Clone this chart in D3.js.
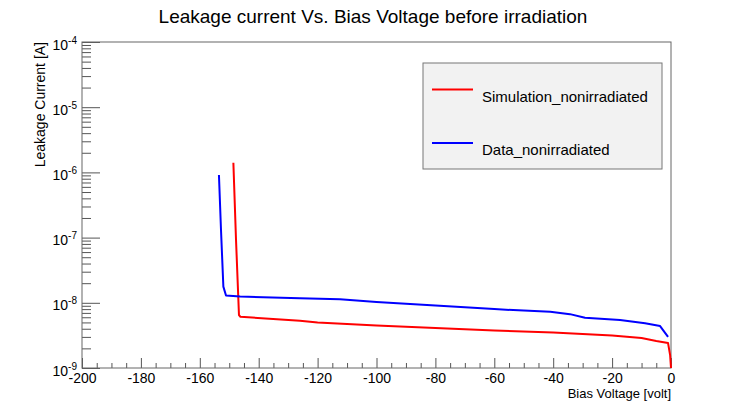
<!DOCTYPE html>
<html>
<head>
<meta charset="utf-8">
<script src="https://cdn.jsdelivr.net/npm/d3@7"></script>
<style>
  html, body { margin: 0; padding: 0; background: #fff; }
  svg { display: block; font-family: "Liberation Sans", Arial, Helvetica, sans-serif; }
</style>
</head>
<body>
<svg id="chart" width="732" height="407"></svg>
<script>
// Bias voltage [V] and leakage current [A] for the simulated curve
const simVoltage = [-148.6, -147.7, -146.7, -146.2, -126, -120, -100, -80, -60, -40, -20, -10, -5, -1, -0.3, 0];
const simCurrent = [1.41e-6, 9.2e-8, 6.5e-9, 6.1e-9, 5.3e-9, 4.99e-9, 4.49e-9, 4.1e-9, 3.76e-9, 3.5e-9, 3.15e-9, 2.88e-9, 2.59e-9, 2.41e-9, 1.58e-9, 1.0e-9];

// Bias voltage [V] and leakage current [A] for the measured curve
const dataVoltage = [-153.5, -152.8, -152.0, -151.1, -146.3, -126, -112.4, -100, -80, -60, -50, -41, -34.3, -29.2, -17.3, -8.8, -3.7, -1.0];
const dataCurrent = [9.1e-7, 1.31e-7, 1.77e-8, 1.29e-8, 1.25e-8, 1.17e-8, 1.13e-8, 1.03e-8, 9.1e-9, 8.0e-9, 7.6e-9, 7.3e-9, 6.7e-9, 5.9e-9, 5.44e-9, 4.85e-9, 4.4e-9, 3.0e-9];

// Axis ranges and ticks
const xDomain = [-200, 0];
const xMajorTicks = [-200, -180, -160, -140, -120, -100, -80, -60, -40, -20, 0];
const yDomain = [1e-9, 1e-4];
const yDecadeExponents = [-9, -8, -7, -6, -5, -4];

const seriesNames = ["Simulation_nonirradiated", "Data_nonirradiated"];
const seriesColors = ["#ff0000", "#0000ff"];

const svg = d3.select("#chart");
const frame = { left: 82, right: 671, top: 42, bottom: 368 };

const x = d3.scaleLinear().domain(xDomain).range([frame.left, frame.right]);
const y = d3.scaleLog().domain(yDomain).range([frame.bottom, frame.top]);

// Title
svg.append("text")
  .attr("x", 373).attr("y", 23)
  .attr("text-anchor", "middle")
  .attr("font-size", 19)
  .text("Leakage current Vs. Bias Voltage before irradiation");

// Minor x ticks every 5 V
const xMinor = d3.range(-200, 0.1, 5).filter(v => v % 20 !== 0);
svg.append("g")
  .attr("transform", `translate(0,${frame.bottom})`)
  .call(d3.axisBottom(x).tickValues(xMinor).tickSize(-5).tickFormat(""))
  .call(g => g.select(".domain").remove())
  .call(g => g.selectAll("line").attr("stroke", "#555"));

// Major x ticks with labels
svg.append("g")
  .attr("transform", `translate(0,${frame.bottom})`)
  .call(d3.axisBottom(x).tickValues(xMajorTicks).tickSize(-10).tickPadding(5).tickFormat(d3.format("d")))
  .call(g => g.select(".domain").remove())
  .call(g => g.selectAll("line").attr("stroke", "#555"))
  .call(g => g.selectAll("text")
    .attr("font-size", 14)
    .attr("font-family", "Liberation Sans, Arial, sans-serif")
    .attr("fill", "#000")
    .attr("y", 15)
    .attr("dy", 0)
    .text(d => String(d)));

// Minor y ticks 2..9 x 10^n
const yMinor = [];
yDecadeExponents.slice(0, -1).forEach(e => {
  for (let m = 2; m <= 9; m++) yMinor.push(m * Math.pow(10, e));
});
svg.append("g")
  .attr("transform", `translate(${frame.left},0)`)
  .call(d3.axisLeft(y).tickValues(yMinor).tickSize(-9).tickFormat(""))
  .call(g => g.select(".domain").remove())
  .call(g => g.selectAll("line").attr("stroke", "#555"));

// Decade y ticks with power-of-ten labels
const yMajor = yDecadeExponents.map(e => Math.pow(10, e));
const yAxisG = svg.append("g")
  .attr("transform", `translate(${frame.left},0)`)
  .call(d3.axisLeft(y).tickValues(yMajor).tickSize(-18).tickFormat(""))
  .call(g => g.select(".domain").remove())
  .call(g => g.selectAll("line").attr("stroke", "#555"));

yAxisG.selectAll(".tick").each(function (d) {
  const exp = Math.round(Math.log10(d));
  const t = d3.select(this).append("text")
    .attr("x", -5).attr("y", 7)
    .attr("text-anchor", "end")
    .attr("font-size", 14)
    .attr("fill", "#000");
  t.append("tspan").text("10");
  t.append("tspan").attr("dy", -6).attr("font-size", 10).text(String(exp));
});

// Frame
svg.append("rect")
  .attr("x", frame.left).attr("y", frame.top)
  .attr("width", frame.right - frame.left)
  .attr("height", frame.bottom - frame.top)
  .attr("fill", "none")
  .attr("stroke", "#666")
  .attr("stroke-width", 1);

// Axis titles
svg.append("text")
  .attr("x", frame.right).attr("y", 398)
  .attr("text-anchor", "end")
  .attr("font-size", 13)
  .text("Bias Voltage [volt]");

svg.append("text")
  .attr("transform", `translate(45,${frame.top}) rotate(-90)`)
  .attr("text-anchor", "end")
  .attr("font-size", 14)
  .text("Leakage Current [A]");

// Curves
const line = d3.line().x(d => x(d[0])).y(d => y(d[1]));
const series = [
  d3.zip(simVoltage, simCurrent),
  d3.zip(dataVoltage, dataCurrent)
];
series.forEach((pts, i) => {
  svg.append("path")
    .datum(pts)
    .attr("d", line)
    .attr("fill", "none")
    .attr("stroke", seriesColors[i])
    .attr("stroke-width", 2)
    .attr("stroke-linejoin", "round");
});

// Legend
const legend = svg.append("g");
legend.append("rect")
  .attr("x", 423).attr("y", 63)
  .attr("width", 239).attr("height", 106)
  .attr("fill", "#f2f2f2")
  .attr("stroke", "#777")
  .attr("stroke-width", 1);
const legendRows = [89.5, 143];
seriesNames.forEach((name, i) => {
  legend.append("line")
    .attr("x1", 432).attr("x2", 473)
    .attr("y1", legendRows[i]).attr("y2", legendRows[i])
    .attr("stroke", seriesColors[i]).attr("stroke-width", 2);
  legend.append("text")
    .attr("x", 482).attr("y", legendRows[i] + 12)
    .attr("font-size", 15)
    .text(name);
});
</script>
</body>
</html>
